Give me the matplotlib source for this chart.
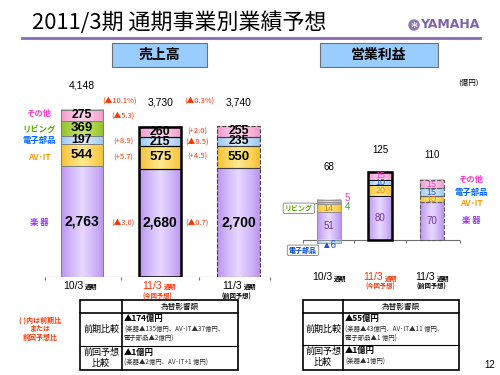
import numpy as np
import matplotlib
matplotlib.use('Agg')
import matplotlib.pyplot as plt
from matplotlib.patches import Rectangle, Circle

plt.rcParams['font.family'] = ['Noto Sans CJK JP', 'DejaVu Sans']
NUM = 'Liberation Sans'

# ---- data ----
periods = ['10/3', '11/3', '11/3']
period_sub = ['', '(今回予想)', '(前回予想)']
seg_names = ['楽 器', 'AV･IT', '電子部品', 'リビング', 'その他']

sales_gakki = [2763, 2680, 2700]
sales_avit = [544, 575, 550]
sales_denshi = [197, 215, 235]
sales_living = [369, 0, 0]
sales_other = [275, 260, 255]
sales_total = [4148, 3730, 3740]

op_gakki = [51, 80, 70]
op_avit = [14, 20, 10]
op_denshi = [-6, 10, 15]
op_living = [4, 0, 0]
op_other = [5, 15, 15]
op_total = [68, 125, 110]

# change vs previous (gap 0: 10/3 -> 11/3, gap 1: prev forecast vs this)
chg_gap0 = ['(▲3.0)', '(+5.7)', '(+8.9)', '', '(▲5.3)']
chg_gap1 = ['(▲0.7)', '(+4.5)', '(▲8.5)', '', '(+2.0)']
chg_total = ['(▲10.1%)', '(▲0.3%)']

fx_prev = ['▲174億円', '(楽器▲135億円、AV･IT▲37億円、', '電子部品▲2億円)']
fx_fcst = ['▲1億円', '(楽器▲2億円、AV･IT+1 億円)']
fx_prev_op = ['▲55億円', '(楽器▲43億円、AV･IT▲11 億円、', '電子部品▲1 億円)']
fx_fcst_op = ['▲1億円', '(楽器▲1億円)']

# ---- style ----
c_edge = ['#B890F0', '#F5BE2E', '#96C6F0', '#8CBF26', '#F296CA']
c_mid = ['#E6D8FF', '#FFE98C', '#DCEEFF', '#C6E66A', '#FFD4EC']
c_text = ['#9933FF', '#FF9900', '#0066FF', '#55AA00', '#FF33CC']
c_optext = ['#7030A0', '#F08000', '#2050E0', '#40A040', '#FF33CC']
red = '#FF3300'


def grad_rect(ax, x, y0, h, w, ce, cm, ls, ec, lw):
    t = np.linspace(0, 1, 64)
    k = (1 - np.abs(2 * t - 1)) ** 0.8
    a = np.array(matplotlib.colors.to_rgb(ce))
    b = np.array(matplotlib.colors.to_rgb(cm))
    img = a[None, :] * (1 - k[:, None]) + b[None, :] * k[:, None]
    ax.imshow(img[None, :, :], extent=[x - w / 2, x + w / 2, min(y0, y0 + h), max(y0, y0 + h)],
              aspect='auto', interpolation='bilinear', zorder=2)
    ax.add_patch(Rectangle((x - w / 2, y0), w, h, fill=False, ec=ec, lw=lw, ls=ls, zorder=3))


def stack(ax, values, w, styles):
    mids = [[None] * len(values) for _ in range(3)]
    for i in range(3):
        pos, neg = 0, 0
        ls, ec, lw, outer = styles[i]
        for j, v in enumerate(values):
            val = v[i]
            if val == 0:
                continue
            if val > 0:
                grad_rect(ax, i, pos, val, w, c_edge[j], c_mid[j], ls, ec, lw)
                mids[i][j] = pos + val / 2
                pos += val
            else:
                grad_rect(ax, i, neg, val, w, c_edge[j], c_mid[j], ls, ec, lw)
                mids[i][j] = neg + val / 2
                neg += val
        if outer:
            ax.add_patch(Rectangle((i - w / 2, neg), w, pos - neg, fill=False, ec='black', lw=outer, zorder=4))
    return mids


fig = plt.figure(figsize=(5, 3.75), dpi=100)
bg = fig.add_axes([0, 0, 1, 1])
bg.set_xlim(0, 500)
bg.set_ylim(375, 0)
bg.axis('off')

# title and logo
bg.text(32, 23, '2011/3期 通期事業別業績予想', fontsize=15.8, va='center', ha='left')
bg.plot([22, 480], [38, 38], color='#8B6BB1', lw=2)
bg.add_patch(Circle((414, 25), 5, color='#8E78B8'))
bg.text(414, 25.5, '✻', color='white', fontsize=6, ha='center', va='center', family='DejaVu Sans')
bg.text(420, 25, 'YAMAHA', fontsize=9, fontweight='bold', color='#7E62AE', va='center', family='DejaVu Sans')

for x0, x1, s in [(112, 207, '売上高'), (320, 438, '営業利益')]:
    bg.add_patch(Rectangle((x0, 43), x1 - x0, 24, fc='#99CCFF', ec='#707070', lw=0.8))
    bg.text((x0 + x1) / 2, 55, s, fontsize=10, fontweight='bold', ha='center', va='center')
bg.text(458, 83, '(億円)', fontsize=5.5, ha='left', va='center')

# ---- sales chart ----
ax1 = fig.add_axes([45 / 500, (375 - 276.7) / 375, 225 / 500, 197 / 375])
sales = [sales_gakki, sales_avit, sales_denshi, sales_living, sales_other]
w1 = 0.54
mids1 = stack(ax1, sales, w1, [('-', '#808080', 0.7, 0), ('-', 'black', 0.8, 1.8), ('--', '#404040', 0.8, 0)])
ax1.set_xlim(-0.47, 2.4)
ax1.set_ylim(0, 4900)
ax1.axis('off')
ax1.axhline(0, color='#707070', lw=0.8, zorder=1)
ax1.vlines([-0.47, 0.5, 1.5, 2.4], -75, 0, color='#707070', lw=0.8, clip_on=False)
for i in range(3):
    for j in range(5):
        if mids1[i][j] is None:
            continue
        v = sales[j][i]
        ax1.text(i, mids1[i][j], f'{v:,}', ha='center', va='center', zorder=5,
                 fontsize=10 if v > 1000 else (8.8 if v < 300 else 9.5), fontweight='bold', family=NUM)
    ax1.text(i, sales_total[i] + 600, f'{sales_total[i]:,}', ha='center', va='center',
             fontsize=7.5, family=NUM)
for j in range(5):
    if chg_gap0[j]:
        y = mids1[0][j] if j == 4 else mids1[1][j]
        ax1.text(0.53, y, chg_gap0[j], color=red, fontsize=5.5, ha='center', va='center')
    if chg_gap1[j]:
        ax1.text(1.47, mids1[2][j], chg_gap1[j], color=red, fontsize=5.5, ha='center', va='center')
ax1.text(0.48, sales_total[1] + 650, chg_total[0], color=red, fontsize=5.5, ha='center', va='center')
ax1.text(1.5, sales_total[1] + 650, chg_total[1], color=red, fontsize=5.5, ha='center', va='center')

for j, y in enumerate([222, 157, 140, 129, 113]):
    bg.text(39, y, seg_names[j], color=c_text[j], fontsize=6, fontweight='bold', ha='center', va='center')

# ---- operating income chart ----
ax2 = fig.add_axes([303 / 500, (375 - 261.8) / 375, 157 / 500, 120.1 / 375])
ops = [op_gakki, op_avit, op_denshi, op_living, op_other]
w2 = 0.466
mids2 = stack(ax2, ops, w2, [('-', '#909090', 0.6, 0), ('-', 'black', 0.6, 1.8), ('--', '#606060', 0.8, 0)])
ax2.set_xlim(-0.5, 2.55)
ax2.set_ylim(-40, 180)
ax2.axis('off')
ax2.axhline(0, color='#707070', lw=0.8, zorder=1)
ax2.vlines([-0.5, 0.5, 1.5, 2.55], -5.5, 0, color='#707070', lw=0.8, clip_on=False)
for i in range(3):
    for j in range(5):
        if mids2[i][j] is None:
            continue
        v = ops[j][i]
        if i == 0 and j in (3, 4):
            ax2.text(i + 0.36, mids2[i][j] + (6 if j == 4 else -7), str(v), color=c_optext[j],
                     fontsize=7, ha='center', va='center', family=NUM)
        elif v < 0:
            ax2.text(i, v - 3, f'▲{-v}', color=c_optext[j], fontsize=7, ha='center', va='center',
                     family=NUM, zorder=5)
        else:
            ax2.text(i, mids2[i][j], str(v), color=c_optext[j], fontsize=7 if v > 40 else 6.5,
                     ha='center', va='center', family=NUM, zorder=5)
pad = [60, 40, 46]
top2 = [sum(max(s[i], 0) for s in ops) for i in range(3)]
for i in range(3):
    ax2.text(i, top2[i] + pad[i], str(op_total[i]), ha='center', va='center', fontsize=7,
             family=NUM)
ax2.annotate('リビング', xy=(-0.23, mids2[0][3]), xytext=(-0.58, 58), fontsize=5,
             color='#55AA00', fontweight='bold', ha='center', va='center',
             bbox=dict(boxstyle='round,pad=0.25', fc='white', ec='#808080', lw=0.6),
             arrowprops=dict(arrowstyle='-', color='#808080', lw=0.6), annotation_clip=False)
ax2.annotate('電子部品', xy=(-0.2, -6), xytext=(-0.5, -19), fontsize=5,
             color='#0044CC', fontweight='bold', ha='center', va='center',
             bbox=dict(boxstyle='round,pad=0.25', fc='white', ec='#808080', lw=0.6),
             arrowprops=dict(arrowstyle='-', color='#808080', lw=0.6), annotation_clip=False)

for j, y in [(4, 179), (2, 192), (1, 203), (0, 220)]:
    c = c_optext[4] if j == 4 else c_text[j]
    bg.text(471, y, seg_names[j], color=c, fontsize=6, fontweight='bold', ha='center', va='center')

# x labels: (left edge of label, y, centre of sub label)
for xs, subx, y, subdy in [([63, 142, 222], [157, 157, 236], 286, 10), ([312, 363, 415], [380, 380, 431], 277, 9)]:
    for i, xl in enumerate(xs):
        col = red if i == 1 else 'black'
        bg.text(xl, y, periods[i], ha='left', va='center', fontsize=7.5, color=col, family=NUM)
        bg.text(xl + 22, y + 1, '通期', ha='left', va='center', fontsize=4.5, color=col, fontweight='bold')
        if period_sub[i]:
            bg.text(subx[i], y + subdy, period_sub[i], ha='center', va='center', fontsize=4.5, color=col,
                    fontweight='bold')


# ---- tables ----
def table(x0, xs, x1, rows, prev, fcst):
    y0, y1, y2, y3 = rows
    bg.add_patch(Rectangle((x0, y0), x1 - x0, y3 - y0, fill=False, ec='black', lw=1.2))
    bg.plot([x0, x1], [y1, y1], color='black', lw=1.2)
    bg.plot([x0, x1], [y2, y2], color='black', lw=0.8)
    bg.plot([xs, xs], [y0, y3], color='black', lw=1.2)
    bg.text((xs + x1) / 2, (y0 + y1) / 2, '為替影響額', fontsize=5.5, ha='center', va='center')
    bg.text((x0 + xs) / 2, (y1 + y2) / 2, '前期比較', fontsize=6.5, ha='center', va='center')
    bg.text((x0 + xs) / 2, y2 + 6, '前回予想', fontsize=6.5, ha='center', va='center')
    bg.text((x0 + xs) / 2, y2 + 17, '比較', fontsize=6.5, ha='center', va='center')
    bg.text(xs + 2, y1 + 6, prev[0], fontsize=6, fontweight='bold', ha='left', va='center')
    bg.text(xs + 2, y1 + 17, prev[1], fontsize=4.6, ha='left', va='center', color='#303030')
    bg.text(xs + 2, y1 + 26, prev[2], fontsize=4.6, ha='left', va='center', color='#303030')
    bg.text(xs + 2, y2 + 6, fcst[0], fontsize=6, fontweight='bold', ha='left', va='center')
    bg.text(xs + 2, y2 + 17, fcst[1], fontsize=4.6, ha='left', va='center', color='#303030')


table(80, 122, 238, (300, 313, 346, 370), fx_prev, fx_fcst)
table(303, 343, 459, (300, 313, 345, 370), fx_prev_op, fx_fcst_op)

for s, y in [('( )内は前期比', 320), ('または', 328.5), ('前回予想比', 337)]:
    bg.text(40, y, s, color=red, fontsize=5, fontweight='bold', ha='center', va='center')
bg.text(490, 365, '12', fontsize=7, ha='center', va='center', family=NUM)

fig.savefig('out.png', dpi=100)
